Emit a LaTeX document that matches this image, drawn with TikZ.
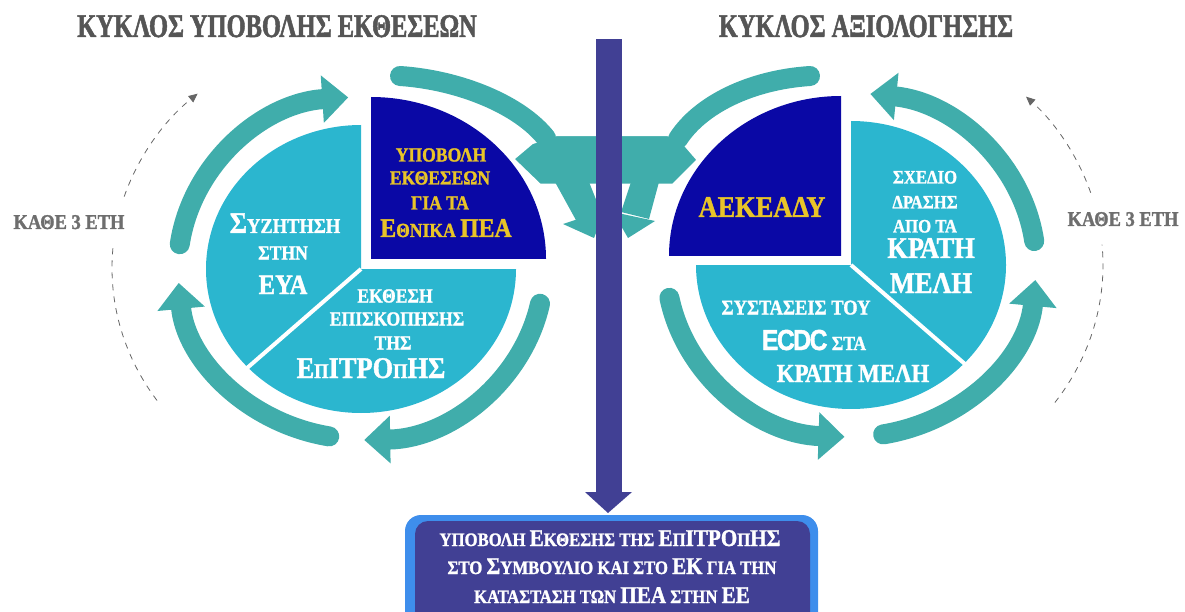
\documentclass[tikz,border=0pt]{standalone}
\usepackage{fontspec}
\usetikzlibrary{arrows.meta}
\newfontfamily\grfont[FakeStretch=0.88,FakeBold=1.3]{Liberation Serif Bold}
\newfontfamily\grnarrow[FakeStretch=0.74,FakeBold=1.5]{Liberation Serif Bold}
\newfontfamily\ecdcfont[FakeStretch=0.85,FakeBold=1.5,LetterSpace=-5]{Liberation Sans Bold}
\newcommand\fsz[2]{{\fontsize{#1}{#1}\selectfont #2}}
\definecolor{tealarc}{RGB}{64,173,171}
\definecolor{pielight}{RGB}{43,182,207}
\definecolor{piedark}{RGB}{10,8,165}
\definecolor{goldtxt}{RGB}{232,196,40}
\definecolor{barblue}{RGB}{65,64,148}
\definecolor{boxedge}{RGB}{62,142,236}
\definecolor{titlegray}{RGB}{85,85,85}
\tikzset{
  cyc/.style={tealarc, line width=20pt, line cap=round, -{Triangle[length=26pt,width=46pt]}},
  cycend/.style={tealarc, line width=20pt, line cap=round},
  every3/.style={titlegray!90, line width=0.8pt, dash pattern=on 6pt off 6pt},
  txt/.style={inner sep=0pt, anchor=base, font=\grfont\fontsize{#1}{#1}\selectfont},
}
\begin{document}
\begin{tikzpicture}[x=1pt,y=-1pt]
  \useasboundingbox (0,0) rectangle (1185,612);
  \clip (0,0) rectangle (1185,612);
  \coordinate (lc) at (361,268);
  \coordinate (rc) at (851,265);

  % titles
  \node[txt=33, titlegray, font=\grnarrow\fontsize{33}{33}\selectfont] (ltitle) at (277,37) {ΚΥΚΛΟΣ ΥΠΟΒΟΛΗΣ ΕΚΘΕΣΕΩΝ};
  \node[txt=33, titlegray, font=\grnarrow\fontsize{33}{33}\selectfont] (rtitle) at (866,37) {ΚΥΚΛΟΣ ΑΞΙΟΛΟΓΗΣΗΣ};

  % left pie
  \fill[pielight] (361,269) -- ++(137:155 and 144) arc[start angle=137, end angle=270, x radius=155, y radius=144] -- cycle;
  \fill[pielight] (361,269) -- ++(0:155 and 144) arc[start angle=0, end angle=137, x radius=155, y radius=144] -- cycle;
  \draw[white, line width=4pt] (361,269) -- ++(137:162 and 151);
  \fill[piedark] (371,259) -- ++(0:175 and 162) arc[start angle=0, end angle=-90, x radius=175, y radius=162] -- cycle;

  % right pie
  \fill[pielight] (851,265) -- ++(-90:155 and 144) arc[start angle=-90, end angle=43, x radius=155, y radius=144] -- cycle;
  \fill[pielight] (851,265) -- ++(43:155 and 144) arc[start angle=43, end angle=180, x radius=155, y radius=144] -- cycle;
  \draw[white, line width=4pt] (851,265) -- ++(43:162 and 151);
  \fill[piedark] (841,256) -- ++(180:172 and 160) arc[start angle=180, end angle=270, x radius=172, y radius=160] -- cycle;

  % left cycle arrows
  \draw[cyc] (lc) ++(188:183 and 171) arc[start angle=188, end angle=266, x radius=183, y radius=171];
  \draw[cyc] (lc) ++(12:183 and 172) arc[start angle=12, end angle=89, x radius=183, y radius=172];
  \draw[cyc] (lc) ++(100:183 and 171) arc[start angle=100, end angle=175, x radius=183, y radius=171];
  % right cycle arrows
  \draw[cyc] (rc) ++(352:185 and 172) arc[start angle=352, end angle=276, x radius=185, y radius=172];
  \draw[cyc] (rc) ++(80:185 and 172) arc[start angle=80, end angle=5, x radius=185, y radius=172];
  \draw[cyc] (rc) ++(169:185 and 172) arc[start angle=169, end angle=92, x radius=185, y radius=172];

  % joint band into the middle
  \filldraw[tealarc, draw=white, line width=2.5pt] (556,135) -- (668,135) -- (685,145) -- (698,160) -- (673,185)
    -- (540,185) -- (513,159) -- (532,143) -- cycle;
  \draw[cycend] (400,76) .. controls (460,80) and (520,105) .. (546,138);
  \draw[cycend] (810,76) .. controls (750,80) and (700,105) .. (678,139);
  \fill[tealarc] (555,182) -- (589,182) -- (601,212) -- (577,222) -- cycle;
  \fill[tealarc] (563,224) -- (605,210) -- (594,238) -- cycle;
  \fill[tealarc] (631,182) -- (659,182) -- (649,219) -- (621,212) -- cycle;
  \fill[tealarc] (613,212) -- (655,221) -- (628,238) -- cycle;

  % every three years
  \draw[every3] (lc) ++(145:249 and 231) arc[start angle=145, end angle=186, x radius=249, y radius=231];
  \draw[every3, -{Triangle[length=9pt,width=8pt]}] (lc) ++(198:249 and 231) arc[start angle=198, end angle=229, x radius=249, y radius=231];
  \draw[every3] (rc) ++(36:252 and 234) arc[start angle=36, end angle=-5, x radius=252, y radius=234];
  \draw[every3, -{Triangle[length=9pt,width=8pt]}] (rc) ++(-18:252 and 234) arc[start angle=-18, end angle=-46, x radius=252, y radius=234];
  \node[txt=21, titlegray!85] (lyears) at (69,229) {ΚΑΘΕ 3 ΕΤΗ};
  \node[txt=21, titlegray!85] (ryears) at (1123,226) {ΚΑΘΕ 3 ΕΤΗ};

  % middle bar and result box
  \fill[barblue] (596,39) rectangle (622,493);
  \fill[barblue] (585,492) -- (632,492) -- (608,513) -- cycle;
  \fill[boxedge, rounded corners=16pt] (405,515) rectangle (818,650);
  \fill[barblue, rounded corners=13pt] (415,521) rectangle (810,650);

  % left texts
  \node[txt=20, goldtxt] (ub1) at (441,161.5) {ΥΠΟΒΟΛΗ};
  \node[txt=20, goldtxt] (ub2) at (440,184.5) {ΕΚΘΕΣΕΩΝ};
  \node[txt=20, goldtxt] (ub3) at (440,209.5) {ΓΙΑ ΤΑ};
  \node[txt=20, goldtxt] (ub4) at (446,237) {\fsz{27}{Ε}ΘΝΙΚΑ \fsz{27}{ΠΕΑ}};
  \node[txt=21, white] (sz1) at (285,233) {\fsz{30}{Σ}ΥΖΗΤΗΣΗ};
  \node[txt=20, white] (sz2) at (283,259.5) {ΣΤΗΝ};
  \node[txt=28, white] (sz3) at (283,294) {ΕΥΑ};
  \node[txt=20, white] (ek1) at (395,302.5) {ΕΚΘΕΣΗ};
  \node[txt=20, white] (ek2) at (397,325.5) {ΕΠΙΣΚΟΠΗΣΗΣ};
  \node[txt=20, white] (ek3) at (393,349.5) {ΤΗΣ};
  \node[txt=30, white] (ek4) at (371,378) {Ε\fsz{21}{Π}ΙΤΡΟ\fsz{21}{Π}ΗΣ};

  % right texts
  \node[txt=30, goldtxt] (aek) at (762,217) {ΑΕΚΕΑΔΥ};
  \node[txt=19, white] (sx1) at (925,183.5) {ΣΧΕΔΙΟ};
  \node[txt=19, white] (sx2) at (925,208.5) {ΔΡΑΣΗΣ};
  \node[txt=19, white] (sx3) at (925,232.5) {ΑΠΟ ΤΑ};
  \node[txt=30, white] (sx4) at (931,258) {ΚΡΑΤΗ};
  \node[txt=30, white] (sx5) at (931,293) {ΜΕΛΗ};
  \node[txt=21, white] (st1) at (796,314.5) {ΣΥΣΤΑΣΕΙΣ ΤΟΥ};
  \node[txt=20, white] (st2) at (814,350) {{\ecdcfont\fsz{29}{ECDC}} ΣΤΑ};
  \node[txt=26, white] (st3) at (853,382) {ΚΡΑΤΗ ΜΕΛΗ};

  % box text
  \node[txt=19, white] (bx1) at (610,546) {ΥΠΟΒΟΛΗ \fsz{24}{Ε}ΚΘΕΣΗΣ ΤΗΣ \fsz{24}{Ε}Π\fsz{24}{ΙΤΡΟ}Π\fsz{24}{ΗΣ}};
  \node[txt=19, white] (bx2) at (612,574) {ΣΤΟ \fsz{24}{Σ}ΥΜΒΟΥΛΙΟ ΚΑΙ ΣΤΟ \fsz{24}{ΕΚ} ΓΙΑ ΤΗΝ};
  \node[txt=19, white] (bx3) at (612,603) {ΚΑΤΑΣΤΑΣΗ ΤΩΝ \fsz{24}{ΠΕΑ} ΣΤΗΝ \fsz{24}{ΕΕ}};
\end{tikzpicture}
\end{document}
